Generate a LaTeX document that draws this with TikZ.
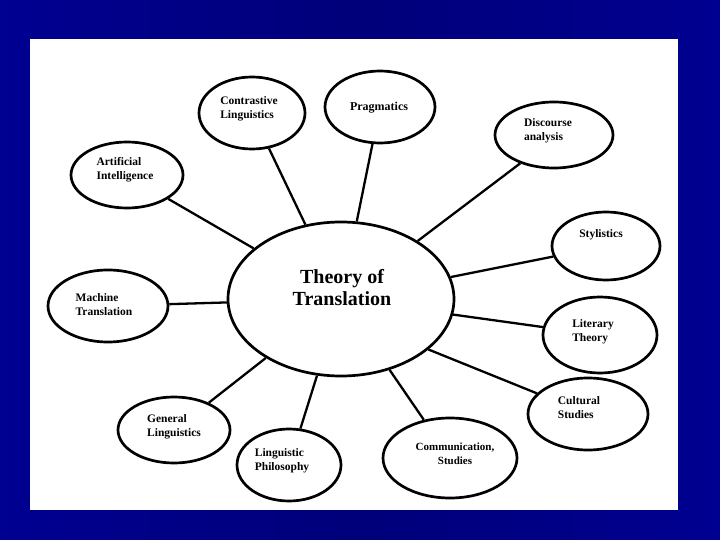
\documentclass[tikz,border=0pt]{standalone}
\usepackage{fontspec}
\setmainfont{Liberation Serif}
\usetikzlibrary{shapes.geometric}
\definecolor{navybg}{RGB}{0,0,122}
\definecolor{navyedge}{RGB}{0,0,145}
\begin{document}
\begin{tikzpicture}[x=1pt,y=-1pt,
  bub/.style={draw=black, line width=2.7pt, ellipse, inner sep=0pt},
  lbl/.style={font=\bfseries\fontsize{11.5}{14}\selectfont, align=left, inner sep=0pt},
  biglbl/.style={font=\bfseries\fontsize{20}{22}\selectfont, align=center, inner sep=0pt},
  link/.style={line width=2.3pt, draw=black}]
\useasboundingbox (0,0) rectangle (720,540);
\shade[left color=navyedge, right color=navyedge, middle color=navybg] (0,0) rectangle (720,540);
\fill[white] (30,39) rectangle (678,510);
% ellipses
\node[bub, minimum width=226pt, minimum height=154pt] (c) at (341,299) {};
\node[bub, minimum width=106pt, minimum height=72pt] (cl) at (252,113) {};
\node[bub, minimum width=110pt, minimum height=72pt] (pr) at (380,107) {};
\node[bub, minimum width=118pt, minimum height=66pt] (da) at (554,135) {};
\node[bub, minimum width=112pt, minimum height=66pt] (ai) at (127,175) {};
\node[bub, minimum width=108pt, minimum height=68pt] (st) at (606,246) {};
\node[bub, minimum width=120pt, minimum height=72pt] (mt) at (108,306) {};
\node[bub, minimum width=114pt, minimum height=76pt] (lt) at (600,335) {};
\node[bub, minimum width=120pt, minimum height=72pt] (cu) at (588,414) {};
\node[bub, minimum width=134pt, minimum height=80pt] (cs) at (450,458) {};
\node[bub, minimum width=112pt, minimum height=66pt] (gl) at (174,430) {};
\node[bub, minimum width=104pt, minimum height=72pt] (lp) at (289,465) {};
% connectors
\foreach \n in {cl,pr,ai,st,mt,lt,cs,gl,lp} \draw[link] (c) -- (\n);
\draw[link] (c) -- (da.220);
\draw[link] (c.-30) -- (cu);
% labels
\node[biglbl] (tc) at (342,288) {Theory of\\Translation};
\node[lbl] (tcl) at (249,109) {Contrastive\\Linguistics};
\node[lbl, font=\bfseries\fontsize{12}{14}\selectfont] (tpr) at (379,108) {Pragmatics};
\node[lbl] (tda) at (548,131) {Discourse\\analysis};
\node[lbl] (tai) at (125,170) {Artificial\\Intelligence};
\node[lbl] (tst) at (601,235) {Stylistics};
\node[lbl] (tmt) at (104,305) {Machine\\Translation};
\node[lbl] (tlt) at (593,332) {Literary\\Theory};
\node[lbl] (tcu) at (579,408) {Cultural\\Studies};
\node[lbl, align=center, font=\bfseries\fontsize{11}{14}\selectfont] (tcs) at (455,454) {Communication,\\Studies};
\node[lbl] (tgl) at (174,427) {General\\Linguistics};
\node[lbl] (tlp) at (282,461) {Linguistic\\Philosophy};
\end{tikzpicture}
\end{document}
